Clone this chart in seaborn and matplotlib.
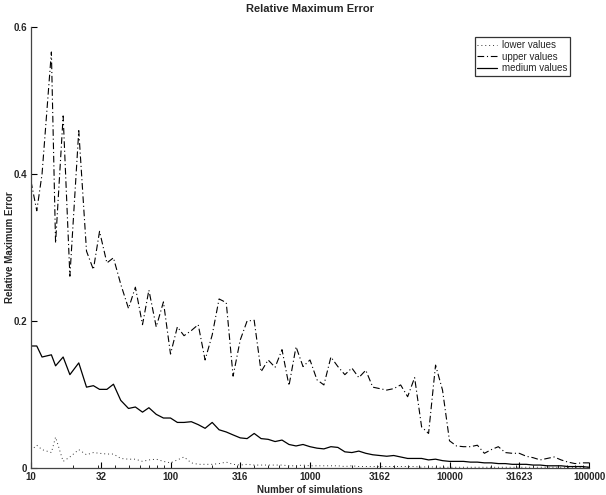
import matplotlib
matplotlib.use("Agg")
import matplotlib.pyplot as plt
import seaborn as sns
import pandas as pd
from matplotlib.ticker import FixedLocator, LogLocator, NullFormatter

# ---- data ----
n_sim = [10, 11, 12, 14, 15, 17, 19, 22, 25, 28,
         31, 35, 39, 44, 50, 56, 63, 70, 79, 89,
         100, 112, 125, 141, 158, 177, 199, 223, 251, 281,
         316, 354, 398, 446, 501, 562, 630, 707, 794, 891,
         1000, 1122, 1258, 1412, 1584, 1778, 1995, 2238, 2511, 2818,
         3162, 3548, 3981, 4466, 5011, 5623, 6309, 7079, 7943, 8912,
         10000, 11220, 12589, 14125, 15848, 17782, 19952, 22387, 25118, 28183,
         31622, 35481, 39810, 44668, 50118, 56234, 63095, 70794, 79432, 89125,
         100000]

upper_values = [0.39, 0.35, 0.40, 0.566, 0.306, 0.479, 0.261, 0.459, 0.295, 0.270,
                0.322, 0.279, 0.286, 0.250, 0.217, 0.246, 0.195, 0.242, 0.192, 0.226,
                0.155, 0.192, 0.180, 0.187, 0.195, 0.147, 0.181, 0.230, 0.225, 0.125,
                0.174, 0.200, 0.201, 0.131, 0.147, 0.137, 0.161, 0.112, 0.165, 0.138,
                0.147, 0.120, 0.113, 0.151, 0.138, 0.127, 0.136, 0.123, 0.133, 0.110,
                0.108, 0.106, 0.108, 0.113, 0.097, 0.123, 0.056, 0.047, 0.140, 0.106,
                0.037, 0.030, 0.029, 0.029, 0.031, 0.020, 0.025, 0.029, 0.021, 0.020,
                0.020, 0.016, 0.014, 0.011, 0.013, 0.015, 0.011, 0.008, 0.006, 0.007,
                0.007]

medium_values = [0.166, 0.166, 0.151, 0.154, 0.139, 0.151, 0.127, 0.143, 0.110, 0.112,
                 0.107, 0.107, 0.114, 0.092, 0.081, 0.083, 0.076, 0.082, 0.073, 0.068,
                 0.068, 0.062, 0.062, 0.063, 0.059, 0.054, 0.062, 0.052, 0.049, 0.045,
                 0.041, 0.040, 0.047, 0.040, 0.039, 0.036, 0.038, 0.032, 0.030, 0.032,
                 0.029, 0.027, 0.026, 0.029, 0.028, 0.022, 0.021, 0.023, 0.020, 0.018,
                 0.017, 0.016, 0.017, 0.015, 0.013, 0.013, 0.013, 0.011, 0.012, 0.010,
                 0.009, 0.009, 0.009, 0.008, 0.008, 0.007, 0.007, 0.006, 0.006, 0.005,
                 0.005, 0.005, 0.004, 0.004, 0.003, 0.003, 0.003, 0.002, 0.002, 0.002,
                 0.001]

lower_values = [0.024, 0.031, 0.025, 0.021, 0.042, 0.009, 0.015, 0.025, 0.018, 0.021,
                0.020, 0.019, 0.019, 0.013, 0.012, 0.012, 0.009, 0.011, 0.012, 0.009,
                0.007, 0.011, 0.015, 0.007, 0.005, 0.005, 0.005, 0.006, 0.008, 0.005,
                0.004, 0.005, 0.004, 0.004, 0.004, 0.004, 0.004, 0.003, 0.003, 0.004,
                0.003, 0.003, 0.003, 0.003, 0.003, 0.002, 0.003, 0.002, 0.002, 0.002,
                0.002, 0.002, 0.002, 0.002, 0.002, 0.002, 0.001, 0.002, 0.001, 0.001,
                0.001, 0.001, 0.001, 0.001, 0.001, 0.001, 0.001, 0.001, 0.001, 0.001,
                0.001, 0.001, 0.001, 0.001, 0.001, 0.001, 0.001, 0.001, 0.001, 0.001,
                0.001]

series_labels = ["lower values", "upper values", "medium values"]
x_tick_values = [10, 31.6228, 100, 316.228, 1000, 3162.28, 10000, 31622.8, 100000]
x_tick_labels = ["10", "32", "100", "316", "1000", "3162", "10000", "31623", "100000"]
y_tick_values = [0, 0.2, 0.4, 0.6]
y_tick_labels = ["0", "0.2", "0.4", "0.6"]

sns.set_theme(style="ticks")
plt.rcParams["font.family"] = ["Liberation Sans", "DejaVu Sans"]

fig = plt.figure(figsize=(6.06, 4.95), dpi=100)
ax = fig.add_axes([31 / 606, 1 - 468 / 495, 558 / 606, 441 / 495])

df = pd.DataFrame({"n": n_sim, "lower": lower_values,
                   "upper": upper_values, "medium": medium_values})

sns.lineplot(data=df, x="n", y="lower", ax=ax, color="#333333", lw=0.7,
             linestyle=(0, (1, 3)), label=series_labels[0])
sns.lineplot(data=df, x="n", y="upper", ax=ax, color="black", lw=0.8,
             linestyle=(0, (6, 2.5, 1, 2.5)), label=series_labels[1])
sns.lineplot(data=df, x="n", y="medium", ax=ax, color="black", lw=0.9,
             linestyle="-", label=series_labels[2])

ax.set_xscale("log")
ax.set_xlim(10, 100000)
ax.set_ylim(0, 0.6)

ax.xaxis.set_major_locator(FixedLocator(x_tick_values))
ax.set_xticklabels(x_tick_labels)
ax.xaxis.set_minor_locator(LogLocator(base=10, subs=range(2, 10)))
ax.xaxis.set_minor_formatter(NullFormatter())
ax.set_yticks(y_tick_values)
ax.set_yticklabels(y_tick_labels)

for lab in ax.get_xticklabels() + ax.get_yticklabels():
    lab.set_fontweight("bold")
    lab.set_fontsize(7)

ax.tick_params(axis="both", which="major", direction="in", length=4,
               width=0.8, color="black", pad=3)
ax.tick_params(axis="x", which="minor", direction="in", length=2,
               width=0.6, color="black")
ax.tick_params(axis="y", which="minor", left=False)

sns.despine(ax=ax, top=True, right=True)
for s in ["left", "bottom"]:
    ax.spines[s].set_color("#444444")
    ax.spines[s].set_linewidth(0.9)

ax.set_title("Relative Maximum Error", fontsize=8, fontweight="bold", pad=11)
ax.set_xlabel("Number of simulations", fontsize=7, fontweight="bold", labelpad=2)
ax.set_ylabel("Relative Maximum Error", fontsize=7, fontweight="bold")
ax.yaxis.label.set_va("center")
ax.yaxis.set_label_coords(-21 / 558, 0.5)

leg = ax.legend(loc="upper right", bbox_to_anchor=(0.966, 0.977), fontsize=7,
                frameon=True, fancybox=False, edgecolor="black",
                handlelength=2.0, handletextpad=0.5, labelspacing=0.15,
                borderpad=0.3, borderaxespad=0)
leg.get_frame().set_linewidth(0.9)

fig.savefig("out.png", dpi=100, facecolor="white")
